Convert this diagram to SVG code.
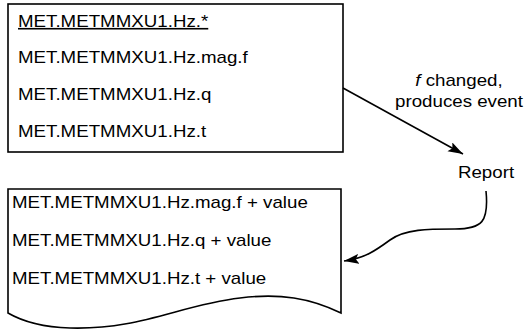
<svg xmlns="http://www.w3.org/2000/svg" width="525" height="330" viewBox="0 0 525 330">
<style>
text{font-family:"Liberation Sans",Arial,sans-serif;font-size:16px;fill:#000}
.box{fill:#fff;stroke:#000;stroke-width:1.6}
.conn{fill:none;stroke:#000;stroke-width:1.6}
</style>
<defs>
<marker id="ah" markerWidth="16" markerHeight="12" refX="15" refY="5" orient="auto" markerUnits="userSpaceOnUse">
<path d="M0,0 L15,5 L0,10 L3,5 Z" fill="#000"/>
</marker>
</defs>
<rect width="525" height="330" fill="#fff"/>
<g id="source">
<rect class="box" x="8" y="4" width="335" height="148"/>
<text transform="translate(18 27) scale(1.17 1)" text-decoration="underline">MET.METMMXU1.Hz.*</text>
<text transform="translate(18 63) scale(1.17 1)">MET.METMMXU1.Hz.mag.f</text>
<text transform="translate(18 100) scale(1.17 1)">MET.METMMXU1.Hz.q</text>
<text transform="translate(18 137) scale(1.17 1)">MET.METMMXU1.Hz.t</text>
</g>
<g id="event-label">
<text transform="translate(459 86) scale(1.17 1)" text-anchor="middle"><tspan font-style="italic">f</tspan> changed,</text>
<text transform="translate(459 107) scale(1.17 1)" text-anchor="middle">produces event</text>
</g>
<g id="report">
<text transform="translate(486 178) scale(1.17 1)" text-anchor="middle">Report</text>
</g>
<g id="result">
<path class="box" d="M8,189 L341,189 L341,313 C310,298 280,293 240,298 C180,305 140,330 70,328 C40,327 20,320 8,313 Z"/>
<text transform="translate(12 208) scale(1.17 1)">MET.METMMXU1.Hz.mag.f + value</text>
<text transform="translate(12 246) scale(1.17 1)">MET.METMMXU1.Hz.q + value</text>
<text transform="translate(12 284) scale(1.17 1)">MET.METMMXU1.Hz.t + value</text>
</g>
<g id="connectors">
<path class="conn" d="M343,88 L463,154" marker-end="url(#ah)"/>
<path class="conn" d="M486,191 C489,222 482,229 455,229 S405,229 390,240 S365,258 344,261" marker-end="url(#ah)"/>
</g>
</svg>
